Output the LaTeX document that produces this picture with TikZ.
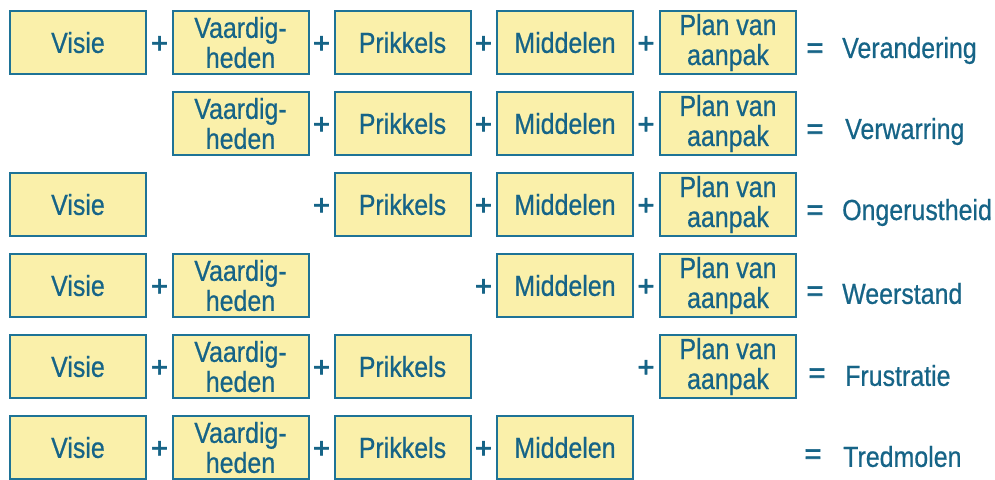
\documentclass[tikz,border=0pt]{standalone}
\usepackage{fontspec}
\setmainfont{Liberation Sans}[FakeStretch=0.86,FakeBold=0.6]
\newfontfamily\symfont{Liberation Sans}[FakeBold=2]
\definecolor{boxfill}{RGB}{250,240,170}
\definecolor{boxline}{RGB}{30,115,150}
\definecolor{txt}{RGB}{22,100,135}
\tikzset{
  box/.style={draw=boxline, line width=2pt, fill=boxfill, minimum width=136pt, minimum height=63pt, inner sep=0pt, align=center, text=txt, font=\fontsize{29}{30}\selectfont},
  plus/.style={text=txt, inner sep=0pt, font=\symfont\fontsize{29}{30}\selectfont},
  eq/.style={text=txt, inner sep=0pt, font=\symfont\fontsize{29}{30}\selectfont},
  lab/.style={text=txt, inner sep=0pt, anchor=west, font=\fontsize{29}{30}\selectfont}
}
\begin{document}
\begin{tikzpicture}[x=1pt,y=-1pt]
\useasboundingbox (0,0) rectangle (995,479);
\fill[white] (0,0) rectangle (995,479);
% column centres: 78, 240.5, 402.5, 565, 728 ; plus x: 159.5, 321.5, 483.5, 646
% Row 1
\node[box] (a1) at (78,42.5) {Visie};
\node[plus] (a1p2) at (159.5,44.5) {+};
\node[box] (a2) at (240.5,42.5) {Vaardig-\\heden};
\node[plus] (a1p3) at (321.5,44.5) {+};
\node[box] (a3) at (402.5,42.5) {Prikkels};
\node[plus] (a1p4) at (483.5,44.5) {+};
\node[box] (a4) at (565,42.5) {Middelen};
\node[plus] (a1p5) at (646,44.5) {+};
\node[box] (a5) at (728,42.5) {Plan van\\aanpak};
\node[eq] (ae) at (815,50.5) {=};
\node[lab] (al) at (842,50.5) {Verandering};
% Row 2
\node[box] (b2) at (240.5,123.5) {Vaardig-\\heden};
\node[plus] (b1p3) at (321.5,125.5) {+};
\node[box] (b3) at (402.5,123.5) {Prikkels};
\node[plus] (b1p4) at (483.5,125.5) {+};
\node[box] (b4) at (565,123.5) {Middelen};
\node[plus] (b1p5) at (646,125.5) {+};
\node[box] (b5) at (728,123.5) {Plan van\\aanpak};
\node[eq] (be) at (815,131.5) {=};
\node[lab] (bl) at (845,131.5) {Verwarring};
% Row 3
\node[box] (c1) at (78,204.5) {Visie};
\node[plus] (c1p3) at (321.5,206.5) {+};
\node[box] (c3) at (402.5,204.5) {Prikkels};
\node[plus] (c1p4) at (483.5,206.5) {+};
\node[box] (c4) at (565,204.5) {Middelen};
\node[plus] (c1p5) at (646,206.5) {+};
\node[box] (c5) at (728,204.5) {Plan van\\aanpak};
\node[eq] (ce) at (815,212.5) {=};
\node[lab] (cl) at (842,212.5) {Ongerustheid};
% Row 4
\node[box] (d1) at (78,285.5) {Visie};
\node[plus] (d1p2) at (159.5,287.5) {+};
\node[box] (d2) at (240.5,285.5) {Vaardig-\\heden};
\node[plus] (d1p4) at (483.5,287.5) {+};
\node[box] (d4) at (565,285.5) {Middelen};
\node[plus] (d1p5) at (646,287.5) {+};
\node[box] (d5) at (728,285.5) {Plan van\\aanpak};
\node[eq] (de) at (815,293.5) {=};
\node[lab] (dl) at (842,293.5) {Weerstand};
% Row 5
\node[box] (e1) at (78,366.5) {Visie};
\node[plus] (e1p2) at (159.5,368.5) {+};
\node[box] (e2) at (240.5,366.5) {Vaardig-\\heden};
\node[plus] (e1p3) at (321.5,368.5) {+};
\node[box] (e3) at (402.5,366.5) {Prikkels};
\node[plus] (e1p5) at (646,368.5) {+};
\node[box] (e5) at (728,366.5) {Plan van\\aanpak};
\node[eq] (ee) at (817,375.5) {=};
\node[lab] (el) at (845,375.5) {Frustratie};
% Row 6
\node[box] (f1) at (78,447.5) {Visie};
\node[plus] (f1p2) at (159.5,449.5) {+};
\node[box] (f2) at (240.5,447.5) {Vaardig-\\heden};
\node[plus] (f1p3) at (321.5,449.5) {+};
\node[box] (f3) at (402.5,447.5) {Prikkels};
\node[plus] (f1p4) at (483.5,449.5) {+};
\node[box] (f4) at (565,447.5) {Middelen};
\node[eq] (fe) at (813,456.5) {=};
\node[lab] (fl) at (843,456.5) {Tredmolen};
\end{tikzpicture}
\end{document}
